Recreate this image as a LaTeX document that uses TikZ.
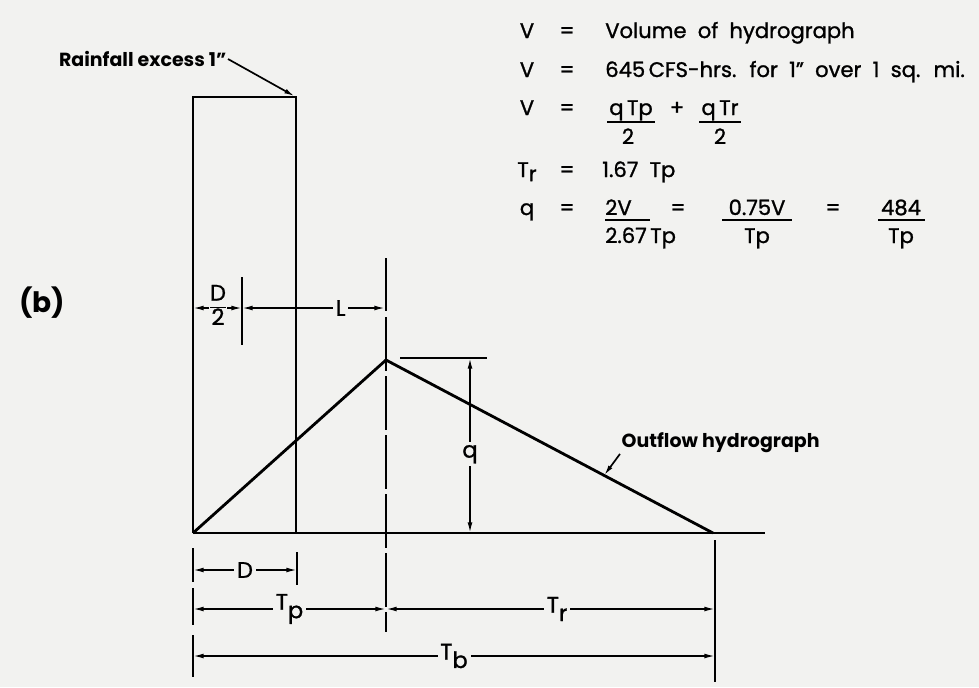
\documentclass[tikz,border=0pt]{standalone}
\usepackage{fontspec}
\setmainfont{Poppins}
\newfontfamily\inkfont{Poppins}[FakeBold=1.2, Ligatures=TeX]
\usepackage{tikz}
\usetikzlibrary{arrows.meta}
\definecolor{paper}{RGB}{242,242,240}
\setlength\arrayrulewidth{1.2pt}

\begin{document}
\begin{tikzpicture}[x=0.025cm, y=-0.025cm, >={Latex[length=7.5pt,width=3.4pt]},
  eq/.style={inner sep=0pt, font=\inkfont\fontsize{15}{18}\selectfont},
  dim/.style={line width=1.1pt},
  bar/.style={line width=1.4pt},
  lbl/.style={fill=paper, inner sep=2pt, font=\inkfont\fontsize{16}{18}\selectfont},
  note/.style={inner sep=1pt, font=\bfseries\fontsize{13.5}{16}\selectfont}]
  \fill[paper] (0,0) rectangle (979,687);
  \useasboundingbox (0,0) rectangle (979,687);
  % Formler
  \node[eq, anchor=base] (v1) at (527,38) {V};
  \node[eq, anchor=base] (e1) at (567,38) {=};
  \node[eq, anchor=base west] (t1) at (605,38) {Volume \ of \ hydrograph};
  \node[eq, anchor=base] (v2) at (527,77) {V};
  \node[eq, anchor=base] (e2) at (567,77) {=};
  \node[eq, anchor=base west] (t2) at (605,77) {645\,CFS-hrs.\hspace{4pt} for\hspace{4pt} 1''\hspace{4pt} over\hspace{4pt} 1\hspace{4pt} sq.\hspace{4pt} mi.};
  \node[eq, anchor=base] (v3) at (527,115) {V};
  \node[eq, anchor=base] (e3) at (567,115) {=};
  \node[eq, anchor=base] (n3a) at (631,115) {q\,Tp};
  \node[eq, anchor=base] (d3a) at (628,144) {2};
  \node[eq, anchor=base] (plus) at (677,115) {+};
  \node[eq, anchor=base] (n3b) at (720,115) {q\,Tr};
  \node[eq, anchor=base] (d3b) at (720,144) {2};
  \draw[bar] (607,122) -- (655,122);
  \draw[bar] (699,122) -- (741,122);
  \node[eq, anchor=base] (v4) at (527,177) {T\raisebox{-3pt}{r}};
  \node[eq, anchor=base] (e4) at (567,177) {=};
  \node[eq, anchor=base west] (t4) at (602,177) {1.67 \ Tp};
  \node[eq, anchor=base] (v5) at (527,215) {q};
  \node[eq, anchor=base] (e5) at (567,215) {=};
  \node[eq, anchor=base west] (n5a) at (605,215) {2V};
  \node[eq, anchor=base west] (d5a) at (605,243) {2.67\,Tp};
  \draw[bar] (605,220) -- (650,220);
  \node[eq, anchor=base] (e5b) at (678,215) {=};
  \node[eq, anchor=base] (n5b) at (757,215) {0.75V};
  \node[eq, anchor=base] (d5b) at (757,243) {Tp};
  \draw[bar] (722,220) -- (792,220);
  \node[eq, anchor=base] (e5c) at (833,215) {=};
  \node[eq, anchor=base] (n5c) at (901,215) {484};
  \node[eq, anchor=base] (d5c) at (901,243) {Tp};
  \draw[bar] (878,220) -- (925,220);
  % (b)
  \node[font=\bfseries\fontsize{20}{24}\selectfont] (b) at (42,303) {(b)};
  % Regn
  \draw[line width=2pt] (193,533) -- (193,97) -- (296,97) -- (296,533);
  \coordinate (rtop) at (296,97);
  \node[note, anchor=east] (rain) at (228,59) {Rainfall excess 1''};
  \draw[->, line width=1.2pt, shorten >=1pt] (rain.east) -- (rtop);
  % Grundlinie og hydrograf
  \draw[line width=1.4pt] (193,533) -- (765,533);
  \coordinate (start) at (193,533);
  \coordinate (peak) at (386,360);
  \coordinate (end) at (713,533);
  \draw[line width=2pt, line join=miter] (start) -- (peak) -- (end);
  \path (peak) -- (end) coordinate[pos=0.667] (hit);
  \node[note, anchor=base west] (out) at (620,447) {Outflow hydrograph};
  \draw[->, line width=1.2pt] (out.south west) -- (hit);
  % Midterlinie
  \draw[dim, dash pattern=on 38pt off 4pt] (386,258) -- (386,632);
  % q
  \draw[dim] (400,358) -- (487,358);
  \draw[dim, <->] (470,358) -- (470,533) node[pos=0.55, lbl] (q) {q};
  % D/2 og L
  \draw[dim] (242,277) -- (242,345);
  \draw[dim, <->] (193,308) -- (242,308);
  \node[lbl, inner sep=1pt] (half) at (218,308) {\renewcommand\arraystretch{0.8}\begin{tabular}{@{}c@{}}D\\\hline 2\end{tabular}};
  \draw[dim, <->] (242,308) -- (385,308) node[pos=0.69, lbl] (L) {L};
  % Maal under grundlinien
  \draw[dim] (193,548) -- (193,582);
  \draw[dim] (297,552) -- (297,585);
  \draw[dim] (193,588) -- (193,625);
  \draw[dim] (193,635) -- (193,677);
  \draw[dim] (715,540) -- (715,682);
  \draw[dim, <->] (193,570) -- (297,570) node[midway, lbl] (D) {D};
  \draw[dim, <->] (193,609) -- (386,609) node[midway, lbl] (Tp) {T\raisebox{-6pt}{p}};
  \draw[dim, <->] (386,609) -- (715,609) node[pos=0.52, lbl] (Tr) {T\raisebox{-6pt}{r}};
  \draw[dim, <->] (193,656) -- (715,656) node[midway, lbl] (Tb) {T\raisebox{-6pt}{b}};
\end{tikzpicture}
\end{document}
